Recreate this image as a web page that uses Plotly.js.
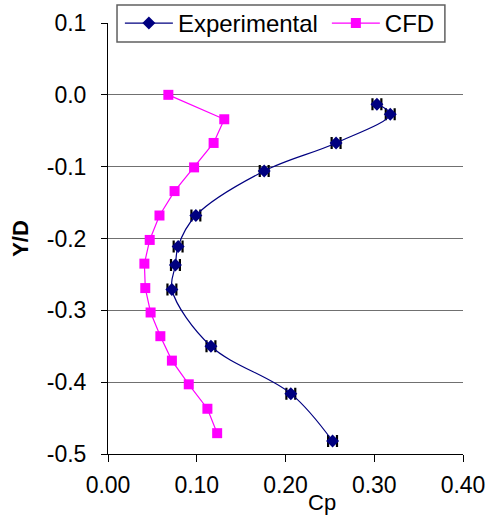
<!DOCTYPE html>
<html>
<head>
<meta charset="utf-8">
<script src="https://cdn.plot.ly/plotly-3.0.1.min.js"></script>
<style>html,body{margin:0;padding:0;background:#fff;}</style>
</head>
<body>
<div id="chart" style="width:487px;height:518px;"></div>
<script>
// Experimental data (Cp vs Y/D)
var expCp = [0.303, 0.318, 0.257, 0.176, 0.099, 0.079, 0.076, 0.072, 0.116, 0.206, 0.253];
var expY  = [-0.013, -0.027, -0.067, -0.106, -0.168, -0.211, -0.237, -0.271, -0.350, -0.416, -0.482];
var expErr = 0.005;

// CFD data
var cfdCp = [0.068, 0.131, 0.119, 0.097, 0.075, 0.058, 0.047, 0.041, 0.042, 0.048, 0.059, 0.072, 0.091, 0.112, 0.123];
var cfdY  = [0, -0.034, -0.067, -0.101, -0.134, -0.168, -0.202, -0.235, -0.269, -0.303, -0.336, -0.370, -0.403, -0.437, -0.471];

// Tick labels
var xTickVals = [0, 0.1, 0.2, 0.3, 0.4];
var xTickText = ["0.00", "0.10", "0.20", "0.30", "0.40"];
var yTickVals = [0.1, 0, -0.1, -0.2, -0.3, -0.4, -0.5];
var yTickText = ["0.1", "0.0", "-0.1", "-0.2", "-0.3", "-0.4", "-0.5"];

var FONT = "Liberation Sans, Arial, sans-serif";

var traces = [
  {
    name: "Experimental",
    legend: "legend",
    x: expCp, y: expY,
    type: "scatter", mode: "lines+markers",
    line: {color: "#000080", width: 1.2, shape: "spline", smoothing: 1},
    marker: {symbol: "diamond", size: 10, color: "#000080"},
    error_x: {type: "constant", value: expErr, color: "#000000", thickness: 2.2, width: 6},
    cliponaxis: false
  },
  {
    name: "CFD",
    legend: "legend2",
    x: cfdCp, y: cfdY,
    type: "scatter", mode: "lines+markers",
    line: {color: "#FF00FF", width: 1.2},
    marker: {symbol: "square", size: 10, color: "#FF00FF"},
    cliponaxis: false
  }
];

function legendStyle(xpos) {
  return {
    orientation: "h",
    x: xpos, xanchor: "left",
    y: 1.051, yanchor: "top",
    bgcolor: "rgba(0,0,0,0)",
    borderwidth: 0,
    font: {family: FONT, size: 24, color: "#000000"},
    itemwidth: 48
  };
}

var layout = {
  width: 487, height: 518,
  margin: {l: 108, r: 24, t: 23, b: 64, pad: 0, autoexpand: false},
  paper_bgcolor: "#ffffff", plot_bgcolor: "#ffffff",
  font: {family: FONT, size: 23, color: "#000000"},
  showlegend: true,
  legend: legendStyle(0.0335),
  legend2: legendStyle(0.6165),
  shapes: [
    {
      type: "rect", xref: "paper", yref: "paper", layer: "above",
      x0: 0.0254, x1: 0.949, y0: 0.956, y1: 1.0418,
      fillcolor: "#ffffff", line: {color: "#606060", width: 1.5}
    }
  ],
  xaxis: {
    range: [0, 0.4],
    tickvals: xTickVals, ticktext: xTickText,
    ticks: "outside", ticklen: 7, tickwidth: 1, tickcolor: "#000",
    showline: true, linecolor: "#000", linewidth: 1,
    showgrid: false, zeroline: false,
    ticklabelstandoff: 3,
    tickfont: {family: FONT, size: 23, color: "#000"}
  },
  yaxis: {
    range: [-0.5, 0.1],
    tickvals: yTickVals, ticktext: yTickText,
    ticks: "outside", ticklen: 6, tickwidth: 1, tickcolor: "#000",
    showline: true, linecolor: "#000", linewidth: 1,
    showgrid: true, gridcolor: "#707070", gridwidth: 1,
    zeroline: false,
    ticklabelstandoff: 10,
    tickfont: {family: FONT, size: 23, color: "#000"},
    title: {text: "Y/D", font: {family: FONT, size: 22, color: "#000", weight: "bold"}, standoff: 12}
  },
  annotations: [
    {
      text: "Cp", xref: "paper", yref: "paper",
      x: 0.603, y: -0.112, xanchor: "center", yanchor: "middle",
      showarrow: false,
      font: {family: FONT, size: 22, color: "#000"}
    }
  ]
};

Plotly.newPlot("chart", traces, layout, {displayModeBar: false, staticPlot: true});
</script>
</body>
</html>
